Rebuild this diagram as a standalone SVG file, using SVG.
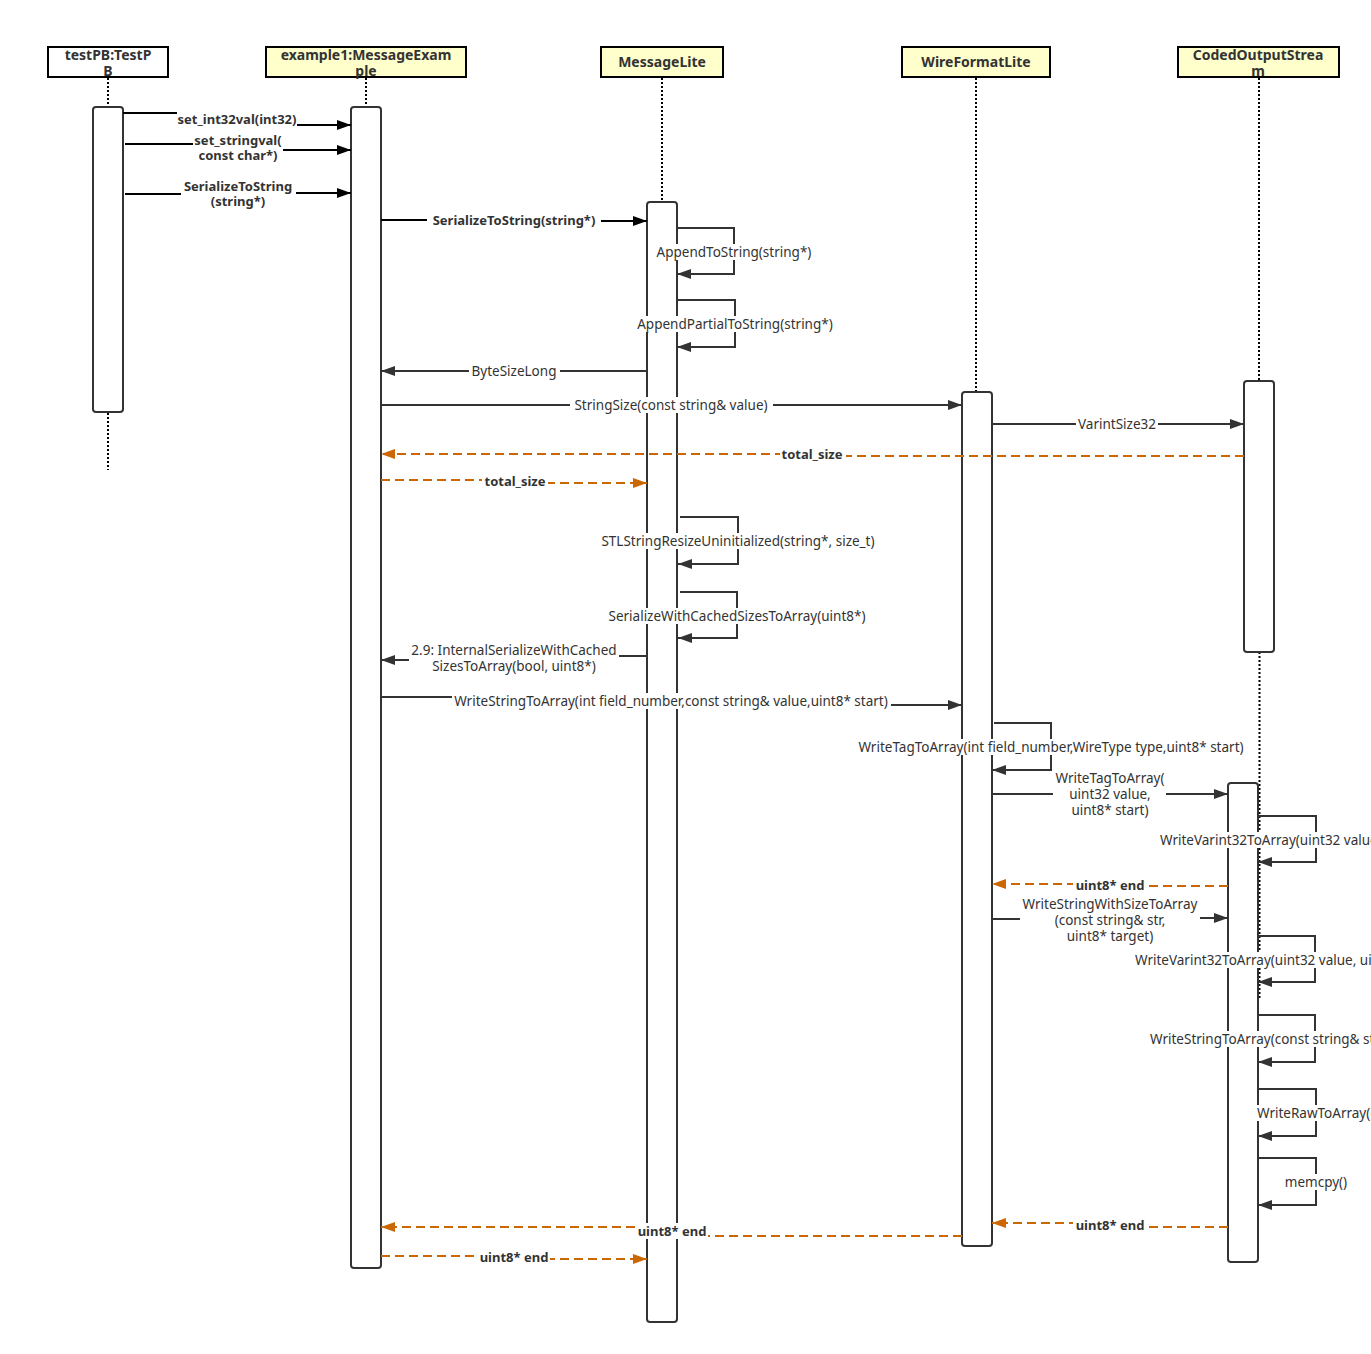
<svg xmlns="http://www.w3.org/2000/svg" width="1371" height="1354" viewBox="0 0 1371 1354">
<defs>
<style>
.t{font-family:"Noto Sans","Open Sans",sans-serif;font-size:13.5px;fill:#333}
.b{font-weight:bold;font-size:13px}
.m{text-anchor:middle}
.bg{fill:#fff}
.ln{fill:none;stroke:#333;stroke-width:2}
.k{stroke:#000}
.ret{fill:none;stroke:#cc6600;stroke-width:2;stroke-dasharray:9 5}
.life{stroke:#000;stroke-width:2;stroke-dasharray:2 2}
.act{fill:#fff;stroke:#333;stroke-width:2}
.hdr{fill:#ffffcc;stroke:#000;stroke-width:2}
.hdrw{fill:#fff;stroke:#000;stroke-width:2}
.ht{font-family:"Noto Sans","Open Sans",sans-serif;font-size:14px;font-weight:bold;fill:#333;text-anchor:middle}
</style>
<marker id="ah" viewBox="0 0 14 10" refX="14" refY="5" markerWidth="14" markerHeight="10" markerUnits="userSpaceOnUse" orient="auto"><path d="M0,0L14,5L0,10z" fill="#333"/></marker>
<marker id="ahk" viewBox="0 0 14 10" refX="14" refY="5" markerWidth="14" markerHeight="10" markerUnits="userSpaceOnUse" orient="auto"><path d="M0,0L14,5L0,10z" fill="#000"/></marker>
<marker id="aho" viewBox="0 0 14 10" refX="14" refY="5" markerWidth="14" markerHeight="10" markerUnits="userSpaceOnUse" orient="auto"><path d="M0,0L14,5L0,10z" fill="#cc6600"/></marker>
</defs>
<rect width="1371" height="1354" fill="#fff"/>

<g id="testPB">
<line class="life" x1="108" y1="78" x2="108" y2="107"/>
<line class="life" x1="108" y1="413" x2="108" y2="470"/>
<rect class="hdrw" x="48" y="47" width="120" height="30"/>
<text class="ht" x="108" y="60">testPB:TestP</text>
<text class="ht" x="108" y="76">B</text>
<rect class="act" x="93" y="107" width="30" height="305" rx="3"/>
</g>

<g id="example1">
<line class="life" x1="366" y1="78" x2="366" y2="107"/>
<rect class="hdr" x="266" y="47" width="200" height="30"/>
<text class="ht" x="366" y="60">example1:MessageExam</text>
<text class="ht" x="366" y="76">ple</text>
<rect class="act" x="351" y="107" width="30" height="1161" rx="3"/>
</g>

<g id="MessageLite">
<line class="life" x1="662" y1="78" x2="662" y2="202"/>
<rect class="hdr" x="601" y="47" width="122" height="30"/>
<text class="ht" x="662" y="67">MessageLite</text>
<rect class="act" x="647" y="202" width="30" height="1120" rx="3"/>
</g>

<g id="WireFormatLite">
<line class="life" x1="976" y1="78" x2="976" y2="392"/>
<rect class="hdr" x="902" y="47" width="148" height="30"/>
<text class="ht" x="976" y="67">WireFormatLite</text>
<rect class="act" x="962" y="392" width="30" height="854" rx="3"/>
</g>

<g id="CodedOutputStream">
<line class="life" x1="1259" y1="78" x2="1259" y2="381"/>
<line class="life" x1="1259.5" y1="652" x2="1259.5" y2="1000"/>
<rect class="hdr" x="1178" y="47" width="161" height="30"/>
<text class="ht" x="1258" y="60">CodedOutputStrea</text>
<text class="ht" x="1258" y="76">m</text>
<rect class="act" x="1244" y="381" width="30" height="271" rx="3"/>
<rect class="act" x="1228" y="783" width="30" height="479" rx="3"/>
</g>

<g id="connectors">
<!-- 1 -->
<path class="ln k" d="M123,113H177"/>
<path class="ln k" d="M297,125H351" marker-end="url(#ahk)"/>
<text class="t b m" x="237" y="124">set_int32val(int32)</text>
<!-- 2 -->
<path class="ln k" d="M125,144H193"/>
<path class="ln k" d="M283,150H351" marker-end="url(#ahk)"/>
<text class="t b m" x="238" y="145">set_stringval(</text>
<text class="t b m" x="238" y="160">const char*)</text>
<!-- 3 -->
<path class="ln k" d="M125,194H181"/>
<path class="ln k" d="M296,193H351" marker-end="url(#ahk)"/>
<text class="t b m" x="238" y="191">SerializeToString</text>
<text class="t b m" x="238" y="206">(string*)</text>
<!-- 4 -->
<path class="ln k" d="M381,220H514V221H647" marker-end="url(#ahk)"/>
<rect class="bg" x="427" y="212" width="174" height="16"/>
<text class="t b m" x="514" y="225">SerializeToString(string*)</text>
<!-- 5 -->
<path class="ln" d="M677,228H734V274H677" marker-end="url(#ah)"/>
<rect class="bg" x="654" y="244" width="160" height="16"/>
<text class="t m" x="734" y="257">AppendToString(string*)</text>
<!-- 6 -->
<path class="ln" d="M677,300H735V347H677" marker-end="url(#ah)"/>
<rect class="bg" x="636" y="316" width="198" height="16"/>
<text class="t m" x="735" y="329">AppendPartialToString(string*)</text>
<!-- 7 -->
<path class="ln" d="M647,371H381" marker-end="url(#ah)"/>
<rect class="bg" x="469" y="363" width="91" height="16"/>
<text class="t m" x="514" y="376">ByteSizeLong</text>
<!-- 8 -->
<path class="ln" d="M381,405H962" marker-end="url(#ah)"/>
<rect class="bg" x="570" y="397" width="203" height="16"/>
<text class="t m" x="671" y="410">StringSize(const string&amp; value)</text>
<!-- 9 -->
<path class="ln" d="M992,424H1244" marker-end="url(#ah)"/>
<rect class="bg" x="1076" y="416" width="82" height="16"/>
<text class="t m" x="1117" y="429">VarintSize32</text>
<!-- 10 -->
<path class="ret" d="M1244,456H812V454H381" marker-end="url(#aho)"/>
<rect class="bg" x="780" y="446" width="66" height="16"/>
<text class="t b m" x="812" y="459">total_size</text>
<!-- 11 -->
<path class="ret" d="M381,480H515V483H647" marker-end="url(#aho)"/>
<rect class="bg" x="482" y="473" width="66" height="16"/>
<text class="t b m" x="515" y="486">total_size</text>
<!-- 12 -->
<path class="ln" d="M680,517H738V564H678" marker-end="url(#ah)"/>
<rect class="bg" x="599" y="533" width="278" height="16"/>
<text class="t m" x="738" y="546">STLStringResizeUninitialized(string*, size_t)</text>
<!-- 13 -->
<path class="ln" d="M680,592H737V638H678" marker-end="url(#ah)"/>
<rect class="bg" x="605" y="608" width="264" height="16"/>
<text class="t m" x="737" y="621">SerializeWithCachedSizesToArray(uint8*)</text>
<!-- 14 -->
<path class="ln" d="M647,656H619"/>
<path class="ln" d="M409,660H381" marker-end="url(#ah)"/>
<text class="t m" x="514" y="655">2.9: InternalSerializeWithCached</text>
<text class="t m" x="514" y="671">SizesToArray(bool, uint8*)</text>
<!-- 15 -->
<path class="ln" d="M381,697H453"/>
<path class="ln" d="M890,705H962" marker-end="url(#ah)"/>
<rect class="bg" x="452" y="693" width="439" height="16"/>
<text class="t m" x="671" y="706">WriteStringToArray(int field_number,const string&amp; value,uint8* start)</text>
<!-- 16 -->
<path class="ln" d="M994,723H1051V770H992" marker-end="url(#ah)"/>
<rect class="bg" x="854" y="739" width="394" height="16"/>
<text class="t m" x="1051" y="752">WriteTagToArray(int field_number,WireType type,uint8* start)</text>
<!-- 17 -->
<path class="ln" d="M992,794H1053"/>
<path class="ln" d="M1166,794H1228" marker-end="url(#ah)"/>
<text class="t m" x="1110" y="783">WriteTagToArray(</text>
<text class="t m" x="1110" y="799">uint32 value,</text>
<text class="t m" x="1110" y="815">uint8* start)</text>
<!-- 18 -->
<path class="ln" d="M1258,816H1316V862H1258" marker-end="url(#ah)"/>
<rect class="bg" x="1158" y="832" width="213" height="16"/>
<text class="t" x="1160" y="845">WriteVarint32ToArray(uint32 value, uint8* target)</text>
<!-- 19 -->
<path class="ret" d="M1228,886H1110V884H992" marker-end="url(#aho)"/>
<rect class="bg" x="1073" y="877" width="73" height="16"/>
<text class="t b m" x="1110" y="890">uint8* end</text>
<!-- 20 -->
<path class="ln" d="M992,919H1020"/>
<path class="ln" d="M1200,918H1228" marker-end="url(#ah)"/>
<text class="t m" x="1110" y="909">WriteStringWithSizeToArray</text>
<text class="t m" x="1110" y="925">(const string&amp; str,</text>
<text class="t m" x="1110" y="941">uint8* target)</text>
<!-- 21 -->
<path class="ln" d="M1258,936H1315V982H1258" marker-end="url(#ah)"/>
<rect class="bg" x="1133" y="952" width="238" height="16"/>
<text class="t" x="1135" y="965">WriteVarint32ToArray(uint32 value, uint8* target)</text>
<!-- 22 -->
<path class="ln" d="M1258,1015H1315V1062H1258" marker-end="url(#ah)"/>
<rect class="bg" x="1148" y="1031" width="223" height="16"/>
<text class="t" x="1150" y="1044">WriteStringToArray(const string&amp; str, uint8* target)</text>
<!-- 23 -->
<path class="ln" d="M1258,1089H1316V1136H1258" marker-end="url(#ah)"/>
<rect class="bg" x="1255" y="1105" width="116" height="16"/>
<text class="t" x="1257" y="1118">WriteRawToArray(const void* data, int size, uint8* target)</text>
<!-- 24 -->
<path class="ln" d="M1258,1158H1316V1205H1258" marker-end="url(#ah)"/>
<rect class="bg" x="1284" y="1174" width="64" height="16"/>
<text class="t m" x="1316" y="1187">memcpy()</text>
<!-- 25 -->
<path class="ret" d="M1228,1227H1110V1223H992" marker-end="url(#aho)"/>
<rect class="bg" x="1073" y="1217" width="73" height="16"/>
<text class="t b m" x="1110" y="1230">uint8* end</text>
<!-- 26 -->
<path class="ret" d="M962,1236H672V1227H381" marker-end="url(#aho)"/>
<rect class="bg" x="635" y="1223" width="73" height="16"/>
<text class="t b m" x="672" y="1236">uint8* end</text>
<!-- 27 -->
<path class="ret" d="M381,1256H514V1259H647" marker-end="url(#aho)"/>
<rect class="bg" x="478" y="1249" width="72" height="16"/>
<text class="t b m" x="514" y="1262">uint8* end</text>
</g>
</svg>
